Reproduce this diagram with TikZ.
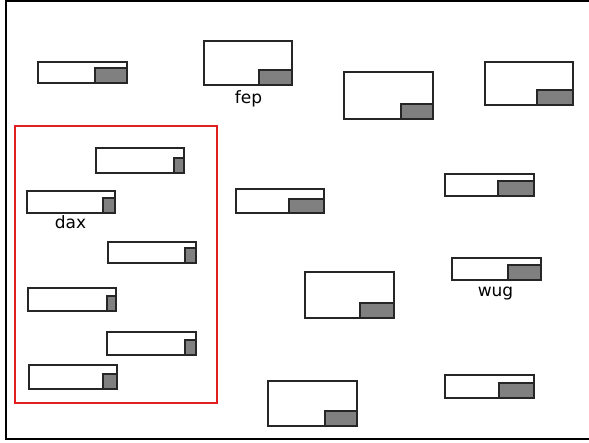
\documentclass[tikz,border=0pt]{standalone}
\usepackage{fontspec}
\setmainfont{DejaVu Sans}
\usetikzlibrary{fit}
\definecolor{edge}{HTML}{262626}
\definecolor{shade}{HTML}{808080}
\definecolor{redframe}{HTML}{E02020}
\tikzset{
  cellbox/.style={draw=edge, line width=1.4pt, fill=white, inner sep=0pt, outer sep=0pt},
  shadebox/.style={draw=edge, line width=1.4pt, fill=shade},
  lbl/.style={anchor=base, inner sep=0pt, font=\fontsize{17}{20}\selectfont},
}
\newcommand\cell[7]{%
  \node[cellbox, fit={(#2,#3) (#4,#5)}] (#1) {};
  \draw[shadebox] (#6,#7) rectangle (#1.south east);
}
\begin{document}
\begin{tikzpicture}[x=1pt,y=-1pt]
\useasboundingbox (0,0) rectangle (589,442);
\fill[white] (0,0) rectangle (589,442);
\node[draw=black, line width=2pt, inner sep=0pt, fit={(6,1) (592,439)}] (frame) {};
\node[draw=redframe, line width=1.2pt, inner sep=0pt, fit={(15,126) (217,403)}] (group) {};
% outside boxes
\cell{b1}{38}{62}{127}{83}{95}{68}
\cell{fep}{204}{41}{292}{85}{259}{70}
\cell{b3}{344}{72}{433}{119}{401}{104}
\cell{b4}{485}{62}{573}{105}{537}{90}
\cell{b5}{445}{174}{534}{196}{498}{181}
\cell{b6}{236}{189}{324}{213}{289}{199}
\cell{b14}{268}{381}{357}{426}{325}{411}
\cell{b15}{305}{272}{394}{318}{360}{303}
\cell{wug}{452}{258}{541}{280}{508}{265}
\cell{b17}{445}{375}{534}{398}{499}{383}
% inside group
\cell{g1}{96}{148}{184}{173}{174}{158}
\cell{dax}{27}{191}{115}{213}{103}{198}
\cell{g3}{108}{242}{196}{263}{185}{248}
\cell{g4}{28}{288}{116}{311}{107}{296}
\cell{g5}{107}{332}{196}{355}{185}{340}
\cell{g6}{29}{365}{117}{389}{103}{374}
% labels
\node[lbl] (fepl) at (248.5,103) {fep};
\node[lbl] (daxl) at (70.5,228.5) {dax};
\node[lbl] (wugl) at (495.5,296.5) {wug};
\end{tikzpicture}
\end{document}
